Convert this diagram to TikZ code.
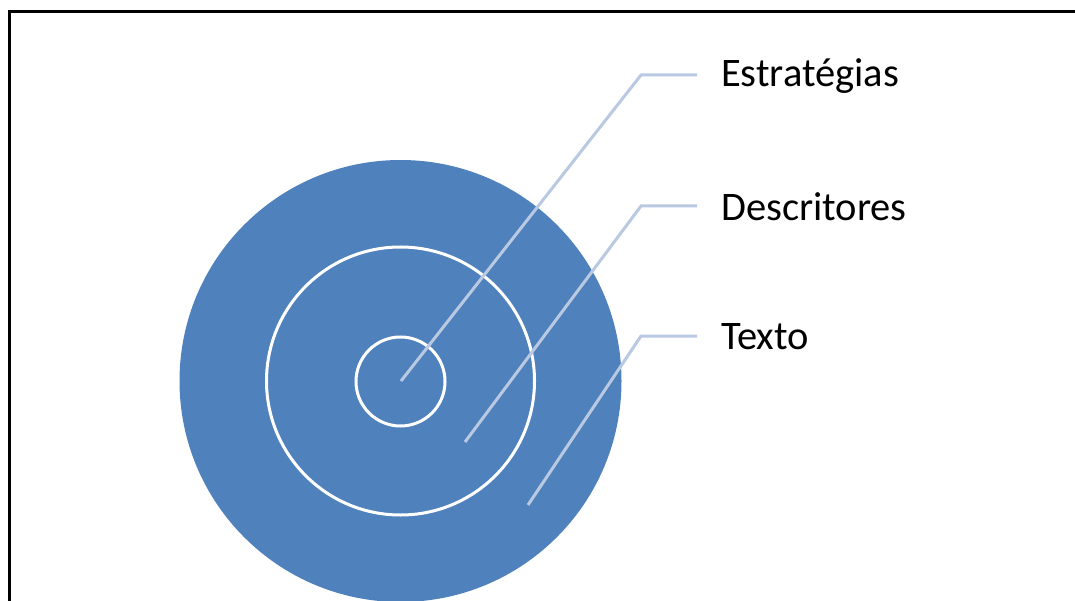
\documentclass[tikz,border=0pt]{standalone}
\usepackage{fontspec}
\setmainfont{Carlito}
\definecolor{ringblue}{RGB}{79,129,189}
\definecolor{leader}{RGB}{185,201,226}
\begin{document}
\begin{tikzpicture}[x=1pt,y=-1pt,
  ring/.style={draw=white,line width=3pt},
  leaderline/.style={draw=leader,line width=3pt},
  lbl/.style={anchor=west,inner sep=0pt,font=\fontsize{40.5}{46}\selectfont}]
\useasboundingbox (0,0) rectangle (1075,601);
\begin{scope}
\clip (0,0) rectangle (1075,601);
\draw[line width=3.5pt] (9.5,11.5) rectangle (1090,620);
\fill[ringblue] (400.5,381) circle (221);
\draw[ring] (400.5,381) circle (134);
\draw[ring] (400.5,381.5) circle (44.5);
\end{scope}
\coordinate (p1) at (401,381);
\coordinate (p2) at (465,442);
\coordinate (p3) at (528,505);
\coordinate (k1) at (641,75);
\coordinate (k2) at (641,206);
\coordinate (k3) at (641,336);
\coordinate (e1) at (697,75);
\coordinate (e2) at (697,206);
\coordinate (e3) at (697,336);
\node[lbl] (t1) at (721,76) {Estratégias};
\node[lbl] (t2) at (721,207) {Descritores};
\node[lbl] (t3) at (721,337) {Texto};
\draw[leaderline] (p1) -- (k1) -- (e1);
\draw[leaderline] (p2) -- (k2) -- (e2);
\draw[leaderline] (p3) -- (k3) -- (e3);
\end{tikzpicture}
\end{document}
